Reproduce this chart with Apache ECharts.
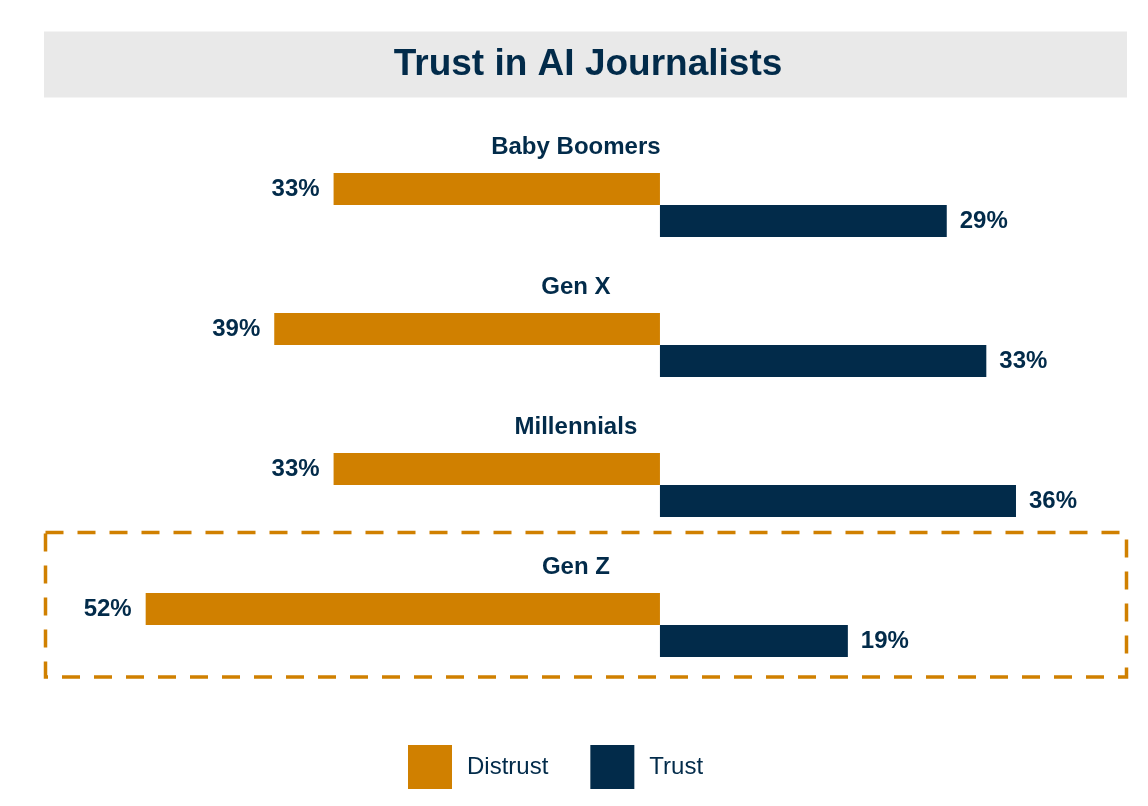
<!DOCTYPE html>
<html>
<head>
<meta charset="utf-8">
<title>Trust in AI Journalists</title>
<script src="https://cdn.jsdelivr.net/npm/echarts@6/dist/echarts.min.js"></script>
<style>
  html, body { margin: 0; padding: 0; background: #fff; }
  #chart { width: 1148px; height: 806px; }
</style>
</head>
<body>
<div id="chart"></div>
<script>
// data
const generations = ['Baby Boomers', 'Gen X', 'Millennials', 'Gen Z'];
const distrust = [33, 39, 33, 52];
const trust = [29, 33, 36, 19];

const ORANGE = '#d08000';
const NAVY = '#022b4a';
const FONT = '"Liberation Sans", Arial, sans-serif';

const chart = echarts.init(document.getElementById('chart'));

// group names sit above each pair of bars, a little left of the zero line
const labelX = -8.5;

const option = {
    animation: false,
    textStyle: { fontFamily: FONT },
    graphic: [
        {
            type: 'rect',
            shape: { x: 44, y: 31.5, width: 1083, height: 66 },
            style: { fill: '#e9e9e9' },
            z: 0
        },
        {
            type: 'text',
            x: 588, y: 65,
            style: {
                text: 'Trust in AI Journalists',
                fill: NAVY,
                font: 'bold 37px ' + FONT,
                align: 'center',
                verticalAlign: 'middle'
            },
            z: 1
        },
        {
            // highlight around Gen Z
            type: 'rect',
            shape: { x: 45.5, y: 532.5, width: 1081, height: 144.5 },
            style: { fill: 'none', stroke: ORANGE, lineWidth: 3.5, lineDash: [18, 14] },
            z: 1
        }
    ],
    legend: {
        data: ['Distrust', 'Trust'],
        left: 408,
        top: 745,
        padding: 0,
        icon: 'rect',
        itemWidth: 44,
        itemHeight: 44,
        itemGap: 42,
        selectedMode: false,
        textStyle: { fontSize: 24, color: NAVY, fontFamily: FONT, padding: [0, 0, 0, 10] }
    },
    grid: { left: 116, right: 43, top: 135, bottom: 111, containLabel: false },
    xAxis: {
        type: 'value',
        min: -55,
        max: 45,
        show: false
    },
    yAxis: {
        type: 'category',
        data: generations,
        inverse: true,
        show: false
    },
    series: [
        {
            name: 'Distrust',
            type: 'bar',
            data: distrust.map(v => -v),
            barWidth: 32,
            barGap: '0%',
            itemStyle: { color: ORANGE },
            label: {
                show: true,
                position: 'left',
                distance: 14,
                color: NAVY,
                fontSize: 24,
                fontWeight: 'bold',
                formatter: p => Math.abs(p.value) + '%'
            }
        },
        {
            name: 'Trust',
            type: 'bar',
            data: trust,
            barWidth: 32,
            barGap: '0%',
            itemStyle: { color: NAVY },
            label: {
                show: true,
                position: 'right',
                distance: 13,
                color: NAVY,
                fontSize: 24,
                fontWeight: 'bold',
                formatter: p => p.value + '%'
            }
        },
        {
            name: 'names',
            type: 'scatter',
            data: generations.map(g => [labelX, g]),
            symbolSize: 0,
            silent: true,
            itemStyle: { opacity: 1 },
            label: {
                show: true,
                position: 'inside',
                offset: [0, -58],
                color: NAVY,
                opacity: 1,
                fontSize: 24,
                fontWeight: 'bold',
                formatter: p => p.value[1]
            }
        }
    ]
};

chart.setOption(option);
</script>
</body>
</html>
